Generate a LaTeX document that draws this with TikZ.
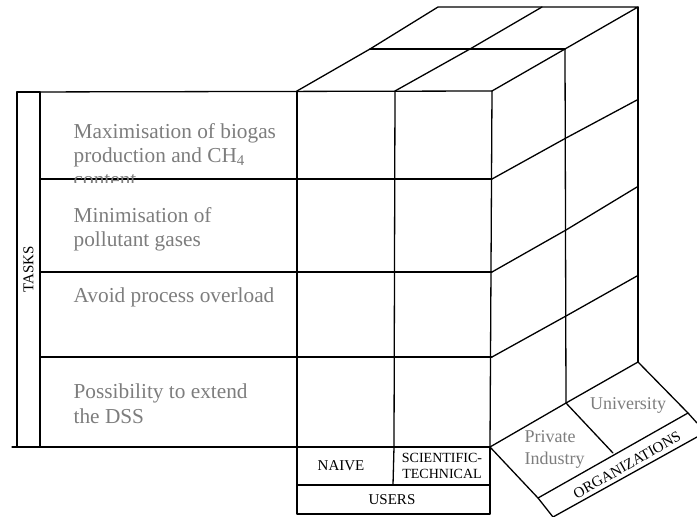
\documentclass[tikz,border=0pt]{standalone}
\usepackage{fontspec}
\setmainfont{Liberation Serif}
\definecolor{txtgray}{RGB}{125,125,125}
\begin{document}
\begin{tikzpicture}[x=1pt,y=-1pt,line width=1.3pt,line join=round,line cap=round,
  task/.style={anchor=base west,text=txtgray,font=\fontsize{21.3}{25}\selectfont,inner sep=0pt},
  lab/.style={text=black,font=\fontsize{15}{16}\selectfont,inner sep=0pt,align=center},
  smalllab/.style={text=black,font=\fontsize{14}{16}\selectfont,inner sep=0pt,align=center},
  orgtext/.style={text=txtgray,font=\fontsize{18}{22}\selectfont,inner sep=0pt,align=left}]
\useasboundingbox (0,0) rectangle (697,517);
% key points
\coordinate (F1) at (297,91);  \coordinate (F2) at (395,91);  \coordinate (F3) at (492,91);
\coordinate (B1) at (297,447); \coordinate (B2) at (394,447); \coordinate (B3) at (490,447);
\coordinate (T1) at (438,7);   \coordinate (T2) at (542,7);   \coordinate (T3) at (638,7);
\coordinate (M1) at (370,49);  \coordinate (M2) at (470,49);  \coordinate (M3) at (565,49);
\coordinate (R1) at (566,138); \coordinate (R2) at (566,230); \coordinate (R3) at (566,316); \coordinate (R4) at (566,403);
\coordinate (S1) at (637,100); \coordinate (S2) at (637,187); \coordinate (S3) at (637,276); \coordinate (S4) at (638,362);
\coordinate (P1) at (538,498); \coordinate (P2) at (688,413); \coordinate (P3) at (613,453);
\coordinate (Q1) at (553,517); \coordinate (Q2) at (697,437); \coordinate (Q3) at (697,423);
% left panel
\draw (17,92) rectangle (40,447);
\draw (12,447) -- (B3);
\draw (17,92) -- (F3);
\draw (40,179) -- (492,179);
\draw (40,272) -- (492,272);
\draw (40,357) -- (492,357);
\draw[line width=2.2pt] (143,179) -- (168,179);
% front verticals
\draw (F1) -- (B1);
\draw (F2) -- (B2);
\draw (F3) -- (B3);
% top face
\draw (F1) -- (M1) -- (T1) -- (T3) -- (M3) -- (F3);
\draw (F2) -- (M2) -- (T2);
\draw (M1) -- (M3);
% right face
\draw (T3) -- (S4);
\draw (M3) -- (R4);
\draw (492,179) -- (R1) -- (S1);
\draw (492,272) -- (R2) -- (S2);
\draw (492,357) -- (R3) -- (S3);
\draw (B3) -- (R4) -- (S4);
% organizations plane
\draw (B3) -- (P1) -- (Q1);
\draw (P1) -- (P2);
\draw (S4) -- (P2) -- (Q3);
\draw (R4) -- (P3);
\draw (Q1) -- (Q2);
% users boxes
\draw (B1) rectangle (490,485);
\draw (B2) -- (393,485);
\draw (297,485) rectangle (490,514);
% texts
\node[task] (t1) at (73,138) {Maximisation of biogas};
\node[task] (t2) at (73,162) {production and CH\textsubscript{4}};
\begin{scope}
  \clip (60,172) rectangle (200,182);
  \node[task] (t3) at (73,186) {content};
\end{scope}
\node[task] (t4) at (73,222) {Minimisation of};
\node[task] (t5) at (73,246) {pollutant gases};
\node[task] (t6) at (73,302) {Avoid process overload};
\node[task] (t7) at (73,398) {Possibility to extend};
\node[task] (t8) at (73,423) {the DSS};
\node[lab,rotate=90] (tasks) at (28.5,269) {TASKS};
\node[lab] (naive) at (341,466) {NAIVE};
\node[smalllab] (sci) at (442,466) {SCIENTIFIC-\\TECHNICAL};
\node[lab] (users) at (392,500) {USERS};
\node[orgtext] (uni) at (628,405) {University};
\node[orgtext,anchor=west] (priv) at (524,449) {Private\\Industry};
\node[lab,rotate=29.5] (orgs) at (627,465) {ORGANIZATIONS};
\end{tikzpicture}
\end{document}
